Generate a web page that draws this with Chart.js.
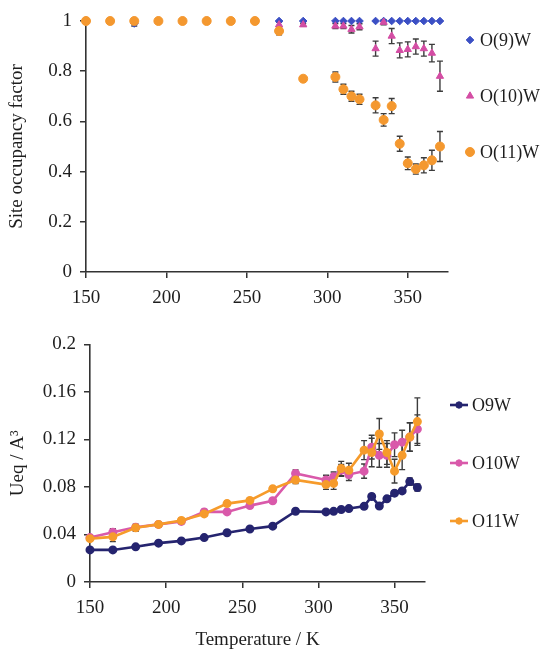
<!DOCTYPE html>
<html>
<head>
<meta charset="utf-8">
<script src="https://cdn.jsdelivr.net/npm/chart.js@4.4.0/dist/chart.umd.min.js"></script>
<style>
  body { margin: 0; background: #fff; width: 547px; height: 652px; position: relative; overflow: hidden; }
  canvas { position: absolute; left: 0; }
  #occ { top: 0; }
  #ueq { top: 325px; }
</style>
</head>
<body>
<canvas id="occ" width="547" height="325"></canvas>
<canvas id="ueq" width="547" height="327"></canvas>
<script>
// site occupancy (top)
var tempsOcc = [150, 165, 180, 195, 210, 225, 240, 255, 270, 285, 305, 310, 315, 320, 330, 335, 340, 345, 350, 355, 360, 365, 370];
var occO9 = [1, 1, 0.99, 1, 1, 1, 1, 1, 1, 1, 1, 1, 1, 1, 1, 1, 1, 1, 1, 1, 1, 1, 1];
var occO9Err = [0, 0, 0.01, 0, 0, 0, 0, 0, 0, 0, 0, 0, 0, 0, 0, 0, 0, 0, 0, 0, 0, 0, 0];
var occO10 = [1, 1, 1, 1, 1, 1, 1, 1, 0.985, 0.985, 0.98, 0.98, 0.967, 0.977, 0.89, 0.995, 0.94, 0.883, 0.887, 0.898, 0.89, 0.872, 0.78];
var occO10Err = [0, 0, 0, 0, 0, 0, 0, 0, 0.01, 0.005, 0.01, 0.01, 0.015, 0.012, 0.03, 0.01, 0.03, 0.03, 0.03, 0.03, 0.03, 0.035, 0.06];
var occO11 = [1, 1, 1, 1, 1, 1, 1, 1, 0.96, 0.77, 0.777, 0.728, 0.70, 0.688, 0.664, 0.606, 0.661, 0.511, 0.433, 0.41, 0.425, 0.445, 0.50];
var occO11Err = [0, 0, 0, 0, 0, 0, 0, 0, 0.015, 0, 0.02, 0.02, 0.02, 0.02, 0.03, 0.025, 0.03, 0.03, 0.025, 0.02, 0.03, 0.04, 0.06];

// Ueq (bottom)
var tempsUeq = [150, 165, 180, 195, 210, 225, 240, 255, 270, 285, 305, 310, 315, 320, 330, 335, 340, 345, 350, 355, 360, 365];
var ueqO9 = [0.027, 0.027, 0.0296, 0.0327, 0.0346, 0.0374, 0.0415, 0.0446, 0.047, 0.0596, 0.059, 0.0595, 0.061, 0.0618, 0.0637, 0.072, 0.064, 0.070, 0.0748, 0.0767, 0.0845, 0.0795];
var ueqO9Err = [0.001, 0.001, 0.001, 0.001, 0.001, 0.001, 0.001, 0.001, 0.001, 0.001, 0.001, 0.001, 0.001, 0.001, 0.002, 0.002, 0.002, 0.002, 0.002, 0.002, 0.003, 0.003];
var ueqO10 = [0.0374, 0.0419, 0.046, 0.0485, 0.051, 0.059, 0.059, 0.0643, 0.0684, 0.0914, 0.0859, 0.0886, 0.094, 0.0905, 0.0933, 0.1135, 0.1066, 0.1066, 0.1155, 0.1177, 0.122, 0.1287];
var ueqO10Err = [0.002, 0.003, 0.002, 0.002, 0.002, 0.002, 0.002, 0.002, 0.002, 0.003, 0.004, 0.004, 0.005, 0.005, 0.006, 0.01, 0.01, 0.01, 0.01, 0.01, 0.012, 0.012];
var ueqO11 = [0.0365, 0.038, 0.0457, 0.0485, 0.0518, 0.0573, 0.066, 0.0687, 0.0784, 0.0859, 0.082, 0.083, 0.0955, 0.094, 0.111, 0.109, 0.1246, 0.109, 0.0933, 0.1066, 0.122, 0.135];
var ueqO11Err = [0.002, 0.004, 0.003, 0.002, 0.002, 0.002, 0.002, 0.002, 0.002, 0.003, 0.004, 0.005, 0.006, 0.006, 0.008, 0.012, 0.013, 0.01, 0.01, 0.012, 0.012, 0.02];

var xTicks = [150, 200, 250, 300, 350];

var FONT = '"Liberation Serif", "Times New Roman", serif';
var INK = '#1e1e1e';
var AXIS = '#333';

function pts(xs, ys) {
	return xs.map(function(x, i) { return { x: x, y: ys[i] }; });
}

var errorBars = {
	id: 'errorBars',
	beforeDatasetsDraw: function(chart) {
		var ctx = chart.ctx, sx = chart.scales.x, sy = chart.scales.y;
		ctx.save();
		ctx.strokeStyle = '#3c3c3c';
		ctx.lineWidth = 1.4;
		chart.data.datasets.forEach(function(ds) {
			if (!ds.err) return;
			ds.data.forEach(function(p, i) {
				var e = ds.err[i];
				if (!e) return;
				var px = sx.getPixelForValue(p.x);
				var y1 = sy.getPixelForValue(p.y - e);
				var y2 = sy.getPixelForValue(p.y + e);
				ctx.beginPath();
				ctx.moveTo(px, y1); ctx.lineTo(px, y2);
				ctx.moveTo(px - 3, y1); ctx.lineTo(px + 3, y1);
				ctx.moveTo(px - 3, y2); ctx.lineTo(px + 3, y2);
				ctx.stroke();
			});
		});
		ctx.restore();
	}
};

var sideLegend = {
	id: 'sideLegend',
	afterDraw: function(chart, args, opts) {
		var ctx = chart.ctx;
		ctx.save();
		chart.data.datasets.forEach(function(ds, i) {
			var yy = opts.y[i];
			if (opts.line) {
				ctx.strokeStyle = ds.borderColor;
				ctx.lineWidth = ds.borderWidth;
				ctx.beginPath();
				ctx.moveTo(opts.x - 9, yy);
				ctx.lineTo(opts.x + 9, yy);
				ctx.stroke();
			}
			ctx.fillStyle = ds.backgroundColor;
			ctx.strokeStyle = ds.borderColor;
			ctx.lineWidth = 1;
			Chart.helpers.drawPoint(ctx, { pointStyle: ds.pointStyle, radius: ds.pointRadius, rotation: 0, borderWidth: 1 }, opts.x, yy);
			ctx.fillStyle = INK;
			ctx.font = '18px ' + FONT;
			ctx.textBaseline = 'middle';
			ctx.textAlign = 'left';
			ctx.fillText(ds.label, opts.tx, yy + 1);
		});
		ctx.restore();
	}
};

// only the round 50 K ticks, no extra tick at the axis end
function keepTicks(scale) {
	scale.ticks = xTicks.map(function(v) { return { value: v }; });
}

function axisCommon() {
	return {
		grid: { drawOnChartArea: false, drawTicks: true, tickLength: 6, color: AXIS, lineWidth: 1.5 },
		border: { display: true, color: AXIS, width: 1.6 }
	};
}

// top chart: site occupancy factor
var xOcc = axisCommon();
xOcc.type = 'linear';
xOcc.min = 150;
xOcc.max = 375;
xOcc.afterBuildTicks = keepTicks;
xOcc.afterFit = function(s) { s.height = 53; };
xOcc.ticks = { padding: 9, color: INK, autoSkip: false, maxRotation: 0, font: { family: FONT, size: 19 } };

var yOcc = axisCommon();
yOcc.min = 0;
yOcc.max = 1;
yOcc.afterFit = function(s) { s.width = 86; };
yOcc.ticks = {
	stepSize: 0.2, padding: 8, color: INK, font: { family: FONT, size: 19 },
	callback: function(v) { return String(Math.round(v * 10) / 10); }
};
yOcc.title = { display: true, text: 'Site occupancy factor', color: INK, font: { family: FONT, size: 19 }, padding: { top: 6 } };

new Chart(document.getElementById('occ').getContext('2d'), {
	type: 'scatter',
	data: {
		datasets: [{
			label: 'O(9)W',
			data: pts(tempsOcc, occO9),
			err: occO9Err,
			pointStyle: 'rectRot',
			pointRadius: 3.8,
			backgroundColor: '#3b4fc4',
			borderColor: '#3b4fc4',
			order: 3
		}, {
			label: 'O(10)W',
			data: pts(tempsOcc, occO10),
			err: occO10Err,
			pointStyle: 'triangle',
			pointRadius: 4.2,
			backgroundColor: '#d44da4',
			borderColor: '#d44da4',
			order: 2
		}, {
			label: 'O(11)W',
			data: pts(tempsOcc, occO11),
			err: occO11Err,
			pointStyle: 'circle',
			pointRadius: 4.5,
			backgroundColor: '#f4982f',
			borderColor: '#f4982f',
			order: 1
		}]
	},
	options: {
		responsive: false,
		animation: false,
		clip: false,
		layout: { padding: { top: 21, right: 99, left: 0, bottom: 0 } },
		plugins: {
			legend: { display: false },
			tooltip: { enabled: false },
			sideLegend: { x: 470, tx: 480, y: [40, 96, 152] }
		},
		scales: { x: xOcc, y: yOcc }
	},
	plugins: [errorBars, sideLegend]
});

// bottom chart: Ueq
var xUeq = axisCommon();
xUeq.type = 'linear';
xUeq.min = 150;
xUeq.max = 370;
xUeq.afterBuildTicks = keepTicks;
xUeq.afterFit = function(s) { s.height = 70; };
xUeq.ticks = { padding: 9, color: INK, autoSkip: false, maxRotation: 0, font: { family: FONT, size: 19 } };
xUeq.title = { display: true, text: 'Temperature / K', color: INK, font: { family: FONT, size: 19 }, padding: { top: 0, bottom: 1 } };

var yUeq = axisCommon();
yUeq.min = 0;
yUeq.max = 0.2;
yUeq.afterFit = function(s) { s.width = 90; };
yUeq.ticks = {
	stepSize: 0.04, padding: 8, color: INK, font: { family: FONT, size: 19 },
	callback: function(v) { return String(Math.round(v * 100) / 100); }
};
yUeq.title = { display: true, text: 'Ueq / A³', color: INK, font: { family: FONT, size: 19 }, padding: { top: 7 } };

function lineSet(label, ys, err, color, order) {
	return {
		label: label,
		data: pts(tempsUeq, ys),
		err: err,
		showLine: true,
		borderColor: color,
		backgroundColor: color,
		borderWidth: 2.6,
		pointStyle: 'circle',
		pointRadius: 3.2,
		order: order
	};
}

new Chart(document.getElementById('ueq').getContext('2d'), {
	type: 'scatter',
	data: {
		datasets: [
			lineSet('O9W', ueqO9, ueqO9Err, '#25246f', 3),
			lineSet('O10W', ueqO10, ueqO10Err, '#d959aa', 2),
			lineSet('O11W', ueqO11, ueqO11Err, '#f69b2b', 1)
		]
	},
	options: {
		responsive: false,
		animation: false,
		clip: false,
		layout: { padding: { top: 16, right: 122, left: 0, bottom: 0 } },
		plugins: {
			legend: { display: false },
			tooltip: { enabled: false },
			sideLegend: { x: 459, tx: 472, y: [80, 138, 196], line: true }
		},
		scales: { x: xUeq, y: yUeq }
	},
	plugins: [errorBars, sideLegend]
});
</script>
</body>
</html>
